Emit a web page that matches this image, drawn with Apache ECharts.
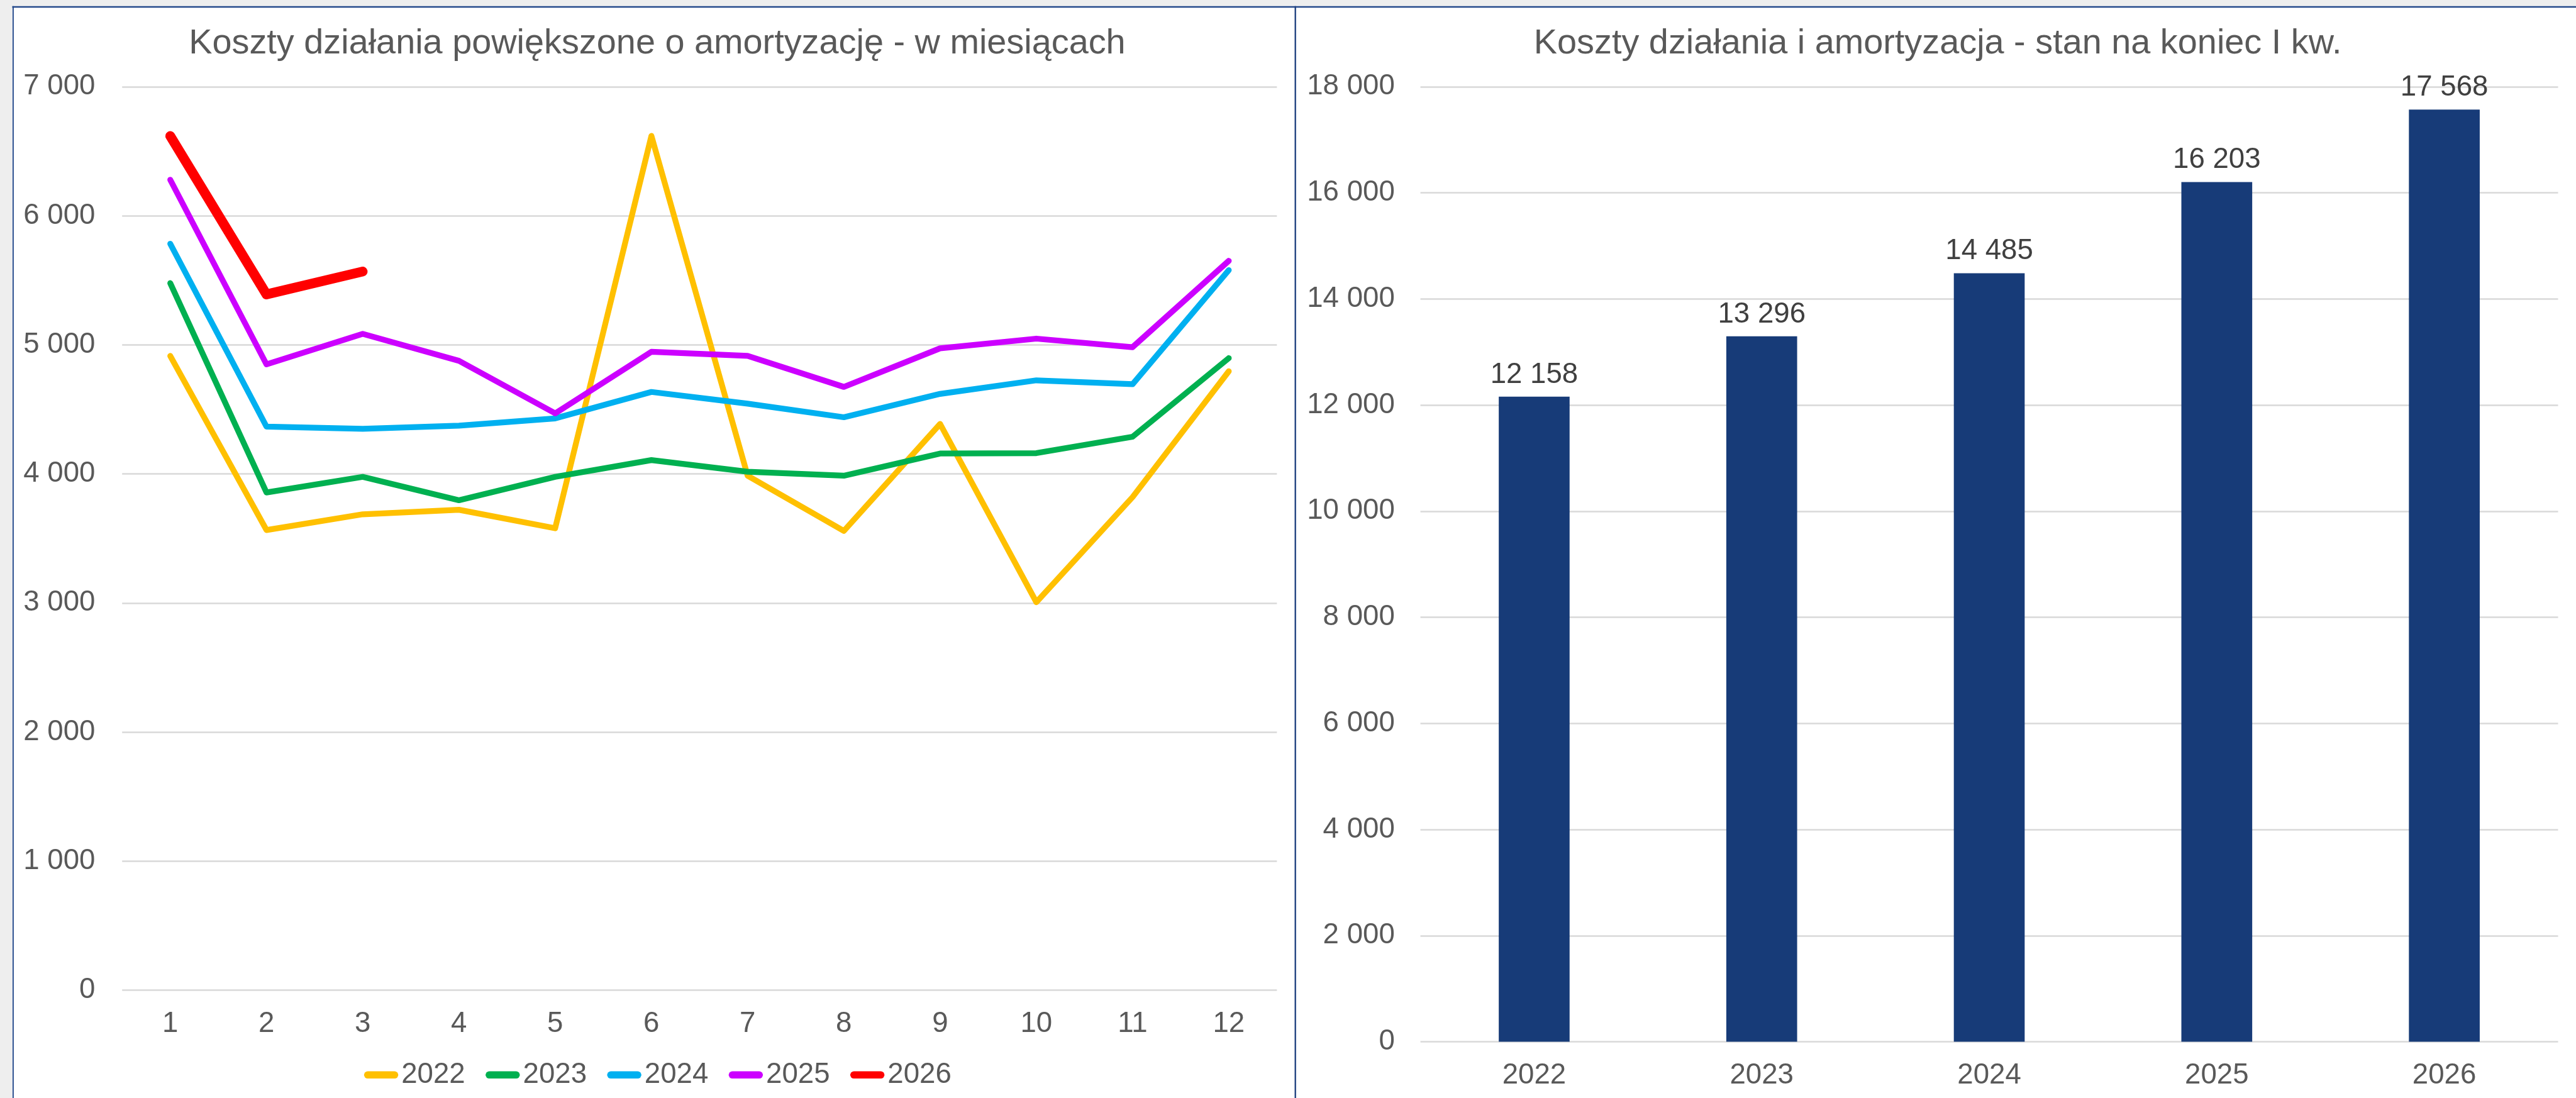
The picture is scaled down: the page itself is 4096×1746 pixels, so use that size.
<!DOCTYPE html>
<html>
<head>
<meta charset="utf-8">
<script src="https://cdn.jsdelivr.net/npm/echarts@6/dist/echarts.min.js"></script>
<style>
html,body{margin:0;padding:0;background:#fff;}
#c{width:4096px;height:1746px;}
</style>
</head>
<body>
<div id="c"></div>
<script>
// ---- data ----
const months = ['1','2','3','4','5','6','7','8','9','10','11','12'];
const seriesNames = ['2022','2023','2024','2025','2026'];
const s2022 = [4914, 3565, 3687, 3722, 3579, 6619, 3986, 3558, 4387, 3006, 3820, 4795];
const s2023 = [5478, 3856, 3977, 3796, 3977, 4107, 4017, 3986, 4158, 4161, 4288, 4897];
const s2024 = [5783, 4366, 4349, 4374, 4430, 4635, 4544, 4439, 4620, 4725, 4695, 5579];
const s2025 = [6279, 4849, 5085, 4876, 4469, 4946, 4915, 4674, 4973, 5048, 4982, 5651];
const s2026 = [6618, 5391, 5568];
const barYears = ['2022','2023','2024','2025','2026'];
const barValues = [12158, 13296, 14485, 16203, 17568];
const leftTitle = 'Koszty działania powiększone o amortyzację - w miesiącach';
const rightTitle = 'Koszty działania i amortyzacja - stan na koniec I kw.';

// ---- layout (reference px, scaled) ----
const S = 0.971;
const W = 4096, H = 1746;
const FONT = '"Liberation Sans", Arial, sans-serif';
const fmt = v => String(v).replace(/\B(?=(\d{3})+(?!\d))/g, ' ');
const lineColors = ['#FFC000', '#00B050', '#00B0F0', '#CC00FF', '#FF0000'];
const lineData = [s2022, s2023, s2024, s2025, s2026];
const borderColor = '#24498A';
const tickSize = 47 * S;
const capsule = 'path://M6,0H50A6,6,0,0,1,50,12H6A6,6,0,0,1,6,0Z';

const chart = echarts.init(document.getElementById('c'), null, {renderer: 'canvas'});

const lineSeries = seriesNames.map((n, i) => ({
  name: n,
  type: 'line',
  xAxisIndex: 0,
  yAxisIndex: 0,
  data: lineData[i],
  symbol: 'none',
  showSymbol: false,
  smooth: false,
  lineStyle: {color: lineColors[i], width: (i === 4 ? 16 : 9.5) * S, cap: 'round', join: 'round'},
  itemStyle: {color: lineColors[i]},
  emphasis: {disabled: true},
  z: 3 + i
}));

const option = {
  animation: false,
  backgroundColor: '#FFFFFF',
  textStyle: {fontFamily: FONT},
  graphic: [
    {type: 'rect', shape: {x: 0, y: 0, width: W, height: 10 * S}, style: {fill: '#EEEEEE'}, silent: true},
    {type: 'rect', shape: {x: 0, y: 0, width: 20 * S, height: H}, style: {fill: '#EEEEEE'}, silent: true},
    {type: 'rect', shape: {x: 20 * S, y: 10 * S, width: W, height: 2.6 * S}, style: {fill: borderColor}, silent: true},
    {type: 'rect', shape: {x: 20.5 * S, y: 10 * S, width: 2 * S, height: H}, style: {fill: borderColor}, silent: true},
    {type: 'rect', shape: {x: 2120 * S, y: 10 * S, width: 2.4 * S, height: H}, style: {fill: '#1D3F7E'}, silent: true}
  ],
  title: [
    {text: leftTitle, left: 1071 * S, top: 38 * S, textAlign: 'center',
     textStyle: {fontFamily: FONT, fontSize: 57.5 * S, fontWeight: 'normal', color: '#595959'}},
    {text: rightTitle, left: 3168 * S, top: 38 * S, textAlign: 'center',
     textStyle: {fontFamily: FONT, fontSize: 57.5 * S, fontWeight: 'normal', color: '#595959'}}
  ],
  legend: {
    data: seriesNames.map((n, i) => ({name: n, icon: capsule, itemStyle: {color: lineColors[i]}})),
    orient: 'horizontal',
    left: 591 * S,
    top: (1755 - 23.5) * S,
    itemWidth: 56 * S,
    itemHeight: 12 * S,
    itemGap: 32.4,
    textStyle: {fontFamily: FONT, fontSize: tickSize, color: '#595959'},
    selectedMode: false
  },
  grid: [
    {left: 200 * S, top: 142 * S, width: (2091 - 200) * S, height: (1621.5 - 142) * S, containLabel: false},
    {left: 2326 * S, top: 142 * S, width: (4189 - 2326) * S, height: (1706 - 142) * S, containLabel: false}
  ],
  xAxis: [
    {type: 'category', gridIndex: 0, data: months, boundaryGap: true,
     axisLine: {show: false}, axisTick: {show: false},
     axisLabel: {fontFamily: FONT, fontSize: tickSize, color: '#595959', margin: 32 * S}},
    {type: 'category', gridIndex: 1, data: barYears, boundaryGap: true,
     axisLine: {show: false}, axisTick: {show: false},
     axisLabel: {fontFamily: FONT, fontSize: tickSize, color: '#595959', margin: 32 * S}}
  ],
  yAxis: [
    {type: 'value', gridIndex: 0, min: 0, max: 7000, interval: 1000,
     axisLine: {show: false}, axisTick: {show: false},
     splitLine: {lineStyle: {color: '#D9D9D9', width: 2.6 * S}},
     axisLabel: {fontFamily: FONT, fontSize: tickSize, color: '#595959', margin: 44 * S, formatter: fmt}},
    {type: 'value', gridIndex: 1, min: 0, max: 18000, interval: 2000,
     axisLine: {show: false}, axisTick: {show: false},
     splitLine: {lineStyle: {color: '#D9D9D9', width: 2.6 * S}},
     axisLabel: {fontFamily: FONT, fontSize: tickSize, color: '#595959', margin: 42 * S, formatter: fmt}}
  ],
  series: lineSeries.concat([{
    name: 'Q1',
    type: 'bar',
    xAxisIndex: 1,
    yAxisIndex: 1,
    data: barValues,
    barWidth: 116 * S,
    itemStyle: {color: '#173B78'},
    emphasis: {disabled: true},
    label: {show: true, position: 'top', distance: 12 * S, fontFamily: FONT, fontSize: tickSize, color: '#404040',
            formatter: p => fmt(p.value)}
  }])
};
chart.setOption(option);
</script>
</body>
</html>
